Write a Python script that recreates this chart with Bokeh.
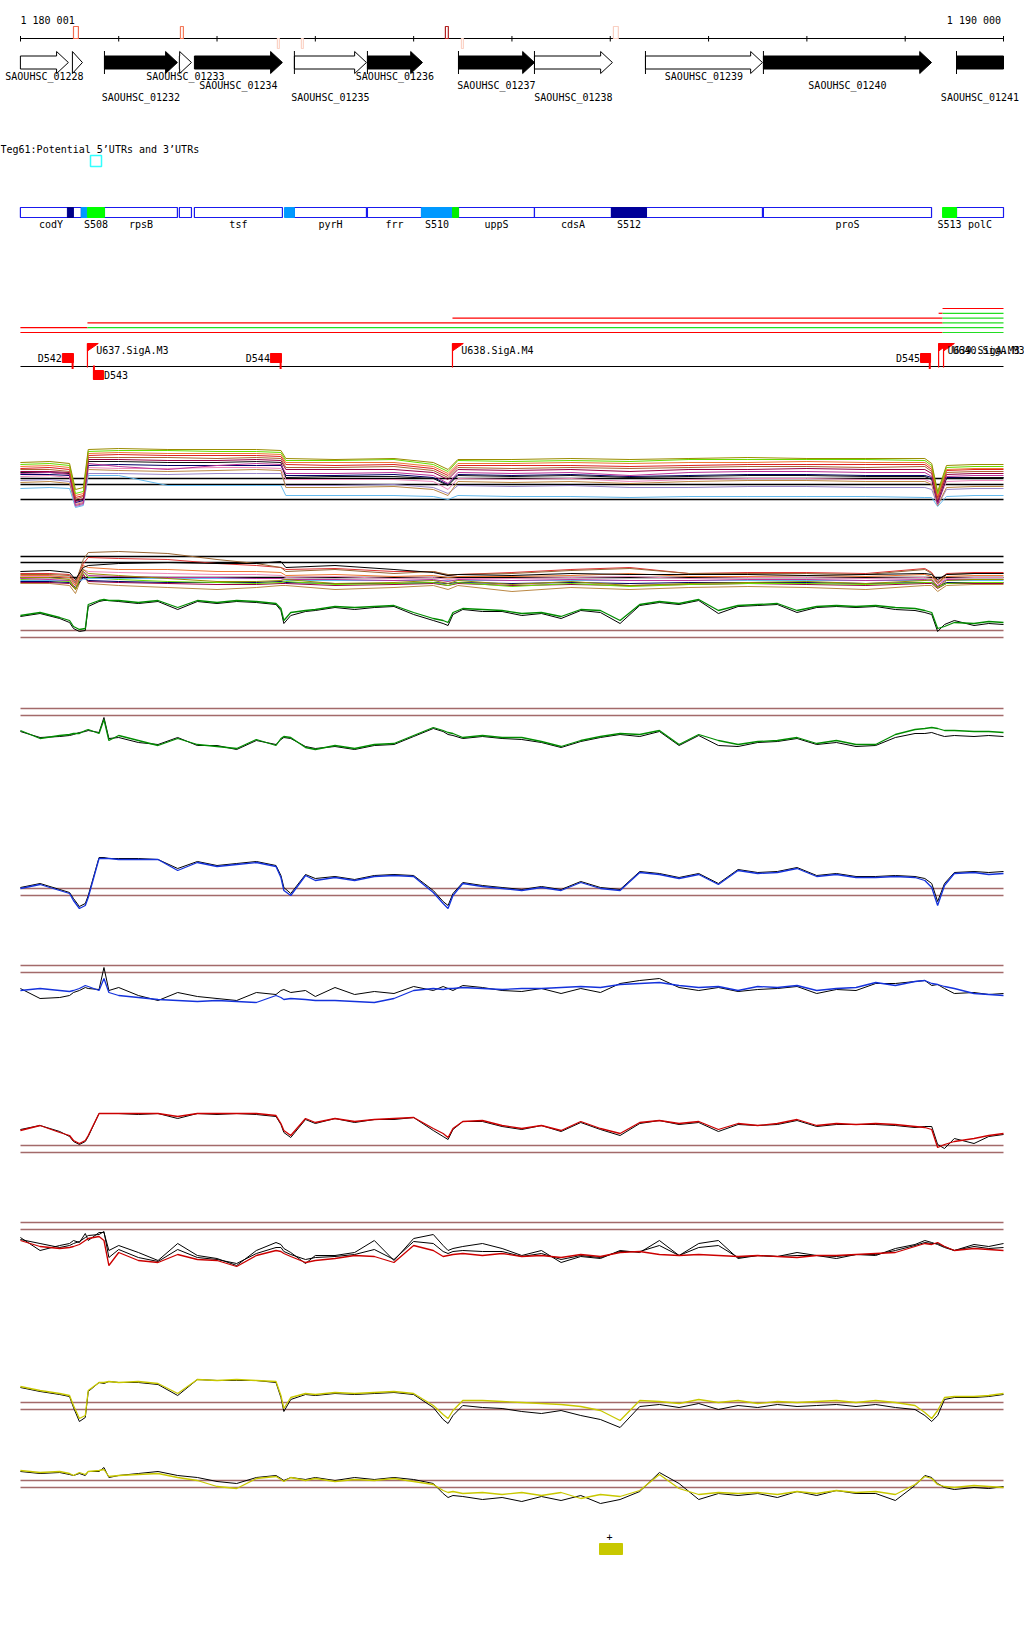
from bokeh.plotting import figure
from bokeh.models import Range1d
from bokeh.core.properties import value
from bokeh.embed import file_html
from bokeh.resources import INLINE

# ---------------- data ----------------
OFFSET = 1180000
REGION_START = 1180001
REGION_END = 1190000

ruler_ticks = [1180001, 1181000, 1182000, 1183000, 1184000, 1185000,
               1186000, 1187000, 1188000, 1189000, 1190000]
ruler_labels = ["1 180 001", "1 190 000"]

# small sites on the ruler (offsets from OFFSET)
site_pos = [540, 1628, 2614, 2858, 4323, 4486, 6032]
site_len = [50, 30, 20, 20, 30, 20, 50]
site_strand = ["+", "+", "-", "-", "+", "-", "+"]
site_color = ["#f26a4f", "#f47a5a", "#fbd3c6", "#fbd3c6", "#b22222", "#fbd3c6", "#f9cfc2"]

# genes
gene_names = ["SAOUHSC_01228", "", "SAOUHSC_01232", "SAOUHSC_01233", "SAOUHSC_01234",
              "SAOUHSC_01235", "SAOUHSC_01236", "SAOUHSC_01237", "SAOUHSC_01238",
              "SAOUHSC_01239", "SAOUHSC_01240", "SAOUHSC_01241"]
gene_start = [0, 529, 855, 1617, 1770, 2787, 3530, 4456, 5229, 6358, 7558, 9522]
gene_end = [488, 631, 1597, 1740, 2665, 3520, 4090, 5229, 6022, 7548, 9268, 10600]
gene_filled = [False, False, True, False, True, False, True, True, False, False, True, True]
gene_row = [0, 0, 2, 0, 1, 2, 0, 1, 2, 0, 1, 2]
gene_tick = [False, False, True, False, False, True, True, True, True, True, True, True]

track_title = "Teg61:Potential 5’UTRs and 3’UTRs"

# annotated CDS boxes
feat_names = ["codY", "rpsB", "", "tsf", "pyrH", "frr", "uppS", "cdsA", "", "proS", "polC"]
feat_start = [0, 855, 1617, 1770, 2787, 3530, 4456, 5229, 6368, 7558, 9522]
feat_end = [620, 1597, 1740, 2665, 3520, 4080, 5229, 6012, 7548, 9268, 10600]
# UTR / sRNA segments
seg_names = ["", "", "S508", "", "S510", "", "S512", "S513"]
seg_start = [478, 620, 682, 2686, 4080, 4395, 6012, 9380]
seg_end = [539, 682, 855, 2787, 4395, 4456, 6368, 9522]
seg_color = ["#000088", "#0099ff", "#00ff00", "#0099ff", "#0099ff", "#00ee00", "#000099", "#00ff00"]

# transcripts
tx_start = [0, 0, 682, 682, 4395, 9340, 9380, 9380, 9380, 9380, 9380]
tx_end = [682, 9380, 9380, 10000, 9380, 9380, 10000, 10000, 10000, 10000, 10000]
tx_row = [1, 0, 2, 1, 3, 4, 0, 2, 3, 4, 5]
tx_color = ["#ff0000", "#ff0000", "#ff0000", "#22dd22", "#ff0000", "#ff0000",
            "#22dd22", "#22dd22", "#22dd22", "#22dd22", "#ff0000"]

# terminators and promoters
term_names = ["D542", "D543", "D544", "D545"]
term_start = [427, 743, 2543, 9156]
term_end = [539, 845, 2655, 9258]
term_strand = ["+", "-", "+", "+"]
prom_names = ["U637.SigA.M3", "U638.SigA.M4", "U639.SigA.M3", "U640.SigA.M3"]
prom_pos = [682, 4395, 9340, 9390]

# positions of signal samples (offsets)
multi_pos = [0, 300, 500, 560, 640, 690, 1000, 1500, 2000, 2400, 2650, 2700, 3200, 3800,
             4200, 4350, 4450, 5000, 5600, 6200, 6800, 7400, 8000, 8600, 9200, 9270,
             9330, 9420, 9700, 10000]
trace_pos = [0, 200, 400, 500, 540, 600, 660, 690, 800, 850, 900, 1000, 1200, 1400, 1600,
             1800, 2000, 2200, 2400, 2600, 2650, 2680, 2750, 2900, 3000, 3200, 3400, 3600,
             3800, 4000, 4200, 4300, 4350, 4400, 4500, 4700, 4900, 5100, 5300, 5500, 5700,
             5900, 6100, 6300, 6500, 6700, 6900, 7100, 7300, 7500, 7700, 7900, 8100, 8300,
             8500, 8700, 8900, 9100, 9200, 9270, 9330, 9400, 9500, 9700, 9850, 10000]

# panel 1: many conditions
a_olive = [37,38,36,10,12,50,51,50,50,50,49,41,40,41,37,30,40,40,41,40,41,42,41,41,41,36,8,34,35,35]
a_lime = [35,36,34,6,8,48,49,49,48,48,47,39,39,40,35,28,39,38,39,38,40,40,40,40,39,34,6,32,33,33]
a_orange = [33,34,32,4,6,46,47,46,46,46,45,37,37,37,33,26,36,36,37,36,37,37,38,37,37,32,4,30,31,31]
a_red = [31,32,30,2,4,44,45,44,44,44,43,35,34,35,31,24,34,34,34,33,34,35,35,35,35,30,2,29,30,30]
a_brown = [30,30,28,0,3,42,42,42,41,42,41,32,32,33,29,22,32,31,32,31,32,33,33,32,33,28,0,27,28,28]
a_maroon = [28,28,27,-2,1,40,40,39,39,40,39,30,30,30,27,20,30,29,30,28,30,30,31,30,30,26,-2,25,26,26]
a_magenta = [26,27,25,-6,-4,36,33,30,34,36,35,26,26,27,24,16,27,26,27,24,27,28,28,27,27,23,-4,23,24,24]
a_black = [27,27,26,-1,0,38,38,37,37,38,37,22,23,23,21,14,24,23,24,22,23,24,24,23,23,20,-3,21,22,22]
a_pink = [23,24,22,-4,-2,32,31,31,32,32,31,20,20,20,18,10,21,20,21,18,20,21,21,20,20,17,-5,18,19,19]
a_navy = [25,25,24,-3,-1,34,35,34,34,34,34,24,24,25,22,15,25,24,25,23,24,25,25,24,24,22,-4,22,22,22]
a_lavender = [19,20,18,-7,-5,26,26,25,26,26,26,14,14,15,12,6,14,13,14,12,12,13,13,12,12,10,-6,10,11,11]
a_skyblue = [11,12,11,-8,-6,24,24,14,14,14,14,4,4,4,3,0,4,3,3,2,3,3,3,3,2,2,-7,3,4,4]
a_tan = [17,18,16,-5,-3,30,29,28,29,30,29,12,12,13,10,4,18,17,18,16,18,19,19,18,18,15,-6,12,13,13]
panel1_refs = [21, 15, 0]

# panel 2: many conditions
b_brown = [3,3,2,-6,18,25,26,24,18,14,10,6,8,4,6,3,3,4,7,9,4,4,4,3,8,4,-6,3,4,4]
b_red = [4,4,3,-4,14,20,19,18,14,12,10,8,9,6,6,2,3,5,8,10,4,5,5,4,9,5,-4,4,5,5]
b_black = [6,7,5,-2,10,12,14,15,14,14,16,10,12,8,5,2,3,2,4,3,3,3,2,3,4,3,-2,3,4,4]
b_orange = [2,2,0,-8,12,10,8,8,6,6,5,2,3,1,2,0,1,1,2,4,1,1,2,1,3,1,-6,1,2,2]
b_olive = [0,0,-2,-12,8,4,2,-1,-4,-4,-3,-2,-6,-5,-3,-6,-3,-7,-4,-8,-6,-5,-4,-6,-3,-2,-10,-3,-2,-2]
b_pink = [1,1,0,-6,8,6,5,4,3,3,2,0,1,-1,0,-2,-1,-1,0,1,-1,0,0,-1,0,-1,-6,-1,0,0]
b_magenta = [-1,-2,-3,-8,6,2,1,0,0,-1,-1,-2,-2,-3,-2,-4,-2,-3,-2,-3,-3,-2,-2,-3,-2,-3,-8,-2,-2,-2]
b_skyblue = [-3,-3,-3,-4,-2,-1,-1,-1,-1,-1,-1,-3,-3,-3,-3,-3,-3,-3,-3,-3,-3,-3,-3,-3,-3,-3,-4,-3,-3,-3]
b_lime = [-2,-3,-4,-12,6,0,-2,-4,-5,-6,-5,-4,-7,-6,-5,-8,-5,-9,-6,-9,-7,-6,-6,-7,-5,-5,-10,-6,-5,-5]
b_navy = [-4,-4,-5,-10,0,-3,-4,-5,-5,-5,-4,-5,-6,-6,-5,-6,-5,-6,-5,-6,-5,-5,-5,-6,-5,-5,-9,-5,-5,-5]
b_tan = [-6,-6,-8,-16,4,-6,-8,-10,-12,-10,-8,-8,-12,-10,-8,-12,-8,-14,-10,-12,-10,-9,-10,-12,-8,-8,-14,-8,-7,-7]
b_maroon = [-5,-5,-6,-12,3,-4,-5,-6,-7,-7,-6,-6,-8,-7,-6,-8,-6,-8,-7,-8,-7,-6,-7,-8,-6,-6,-11,-6,-6,-6]
panel2_refs = [21, 15, 0]

# panels 3-10: condition vs reference (black)
g1_green = [22,25,20,17,11,8,9,33,37,38,37,37,35,37,30,37,35,37,36,34,29,17,25,27,28,31,30,31,32,25,
            19,17,15,25,29,28,27,24,25,21,28,27,17,33,36,34,38,27,32,33,34,27,31,32,31,32,30,29,27,25,
            9,11,15,14,16,15]
g1_black = [21,24,19,15,9,6,7,31,36,37,37,36,34,36,28,36,34,36,35,33,27,14,22,26,27,30,28,30,31,23,
            17,14,12,23,28,26,26,22,24,19,27,25,14,32,35,33,37,24,31,32,33,25,30,31,30,31,28,27,25,23,
            6,13,17,12,14,13]
g2_green = [-15,-23,-20,-19,-18,-18,-15,-14,-18,-4,-25,-20,-25,-30,-23,-29,-31,-33,-24,-30,
            -23,-21,-22,-32,-34,-30,-33,-29,-28,-20,-12,-15,-17,-18,-22,-20,-22,-22,-26,-31,
            -25,-21,-18,-19,-15,-29,-19,-25,-29,-26,-25,-22,-28,-25,-29,-29,-19,-14,-13,-12,
            -13,-15,-15,-16,-16,-17]
g2_black = [-16,-22,-21,-20,-19,-17,-16,-15,-17,-2,-23,-22,-27,-29,-22,-30,-30,-34,-25,-29,
            -24,-22,-23,-31,-33,-31,-34,-30,-29,-21,-13,-16,-19,-20,-23,-21,-23,-24,-27,-32,
            -26,-22,-19,-21,-16,-30,-20,-30,-31,-27,-26,-23,-29,-27,-31,-30,-22,-18,-18,-17,
            -19,-21,-20,-21,-20,-21]
u1_blue = [7,11,5,2,-5,-13,-10,-2,37,37,37,36,36,36,25,33,29,31,33,29,18,5,0,20,15,18,15,19,20,19,
           3,-8,-13,0,12,9,7,5,8,5,13,7,5,23,21,17,21,11,25,22,23,27,19,21,18,18,19,18,15,8,
           -10,10,22,23,21,22]
u1_black = [8,12,6,3,-3,-11,-8,0,38,38,37,37,37,36,27,34,30,32,34,30,20,8,2,21,17,19,16,20,21,20,
            5,-6,-10,2,13,10,8,6,9,6,14,8,6,24,22,18,22,12,26,23,24,28,20,22,19,19,20,19,17,12,
            -6,12,23,24,23,24]
u2_blue = [-18,-16,-18,-19,-18,-16,-13,-14,-18,-6,-20,-23,-25,-27,-28,-29,-28,-29,-30,-23,
           -25,-27,-26,-27,-28,-28,-29,-30,-26,-18,-16,-17,-16,-16,-15,-16,-17,-16,-16,-15,
           -14,-15,-12,-11,-10,-13,-15,-14,-18,-14,-15,-13,-18,-16,-15,-10,-13,-9,-8,-11,
           -12,-14,-16,-21,-22,-23]
u2_black = [-16,-26,-25,-23,-20,-18,-15,-16,-17,5,-18,-15,-23,-28,-20,-24,-26,-28,-20,-22,
            -18,-17,-20,-18,-24,-15,-22,-19,-21,-14,-18,-14,-16,-18,-13,-15,-18,-19,-16,-21,
            -16,-20,-11,-8,-6,-15,-18,-15,-19,-17,-16,-14,-21,-17,-18,-11,-11,-9,-8,-13,
            -12,-16,-21,-20,-22,-21]
r1_red = [22,27,20,17,12,9,12,17,39,39,39,39,39,39,36,39,39,39,39,37,29,22,17,34,30,34,31,33,34,35,
          24,19,15,24,31,32,27,24,27,22,31,24,19,30,32,29,31,23,29,27,29,33,27,29,28,29,28,26,25,23,
          5,8,11,14,17,19]
r1_black = [23,27,21,16,11,8,11,16,39,39,39,39,38,39,34,39,38,39,38,36,28,20,15,33,29,34,30,33,33,35,
            22,16,13,23,31,31,26,23,27,21,30,23,17,29,32,28,30,21,28,27,28,32,26,28,28,28,27,25,26,26,
            8,4,14,9,16,18]
r2_red = [-11,-17,-19,-18,-17,-15,-11,-9,-7,-11,-36,-23,-31,-33,-25,-30,-31,-37,-26,-21,
          -22,-24,-27,-33,-31,-29,-26,-27,-33,-16,-21,-27,-26,-25,-24,-26,-24,-27,-26,-28,
          -25,-27,-23,-22,-25,-26,-25,-26,-27,-26,-27,-28,-26,-26,-25,-24,-23,-17,-14,-15,
          -13,-17,-21,-19,-20,-21]
r2_black = [-8,-21,-16,-14,-11,-13,-4,-11,-3,-3,-21,-16,-23,-31,-14,-26,-29,-36,-21,-13,
            -15,-19,-23,-34,-26,-26,-23,-11,-31,-9,-5,-16,-21,-19,-17,-14,-19,-26,-21,-33,
            -27,-29,-21,-23,-11,-26,-14,-11,-29,-26,-27,-23,-26,-29,-25,-26,-19,-15,-11,-13,
            -15,-18,-21,-15,-17,-14]
r2_black2 = [-10,-14,-18,-16,-14,-12,-8,-6,-5,-2,-28,-20,-28,-32,-20,-28,-30,-34,-24,-18,
             -18,-22,-25,-30,-28,-27,-25,-20,-30,-12,-14,-22,-24,-22,-21,-22,-22,-27,-24,-30,
             -26,-28,-22,-22,-16,-26,-18,-16,-28,-26,-27,-26,-26,-27,-25,-25,-21,-16,-13,-14,
             -14,-17,-21,-17,-19,-18]
y1_yellow = [23,19,16,14,4,-9,-6,19,27,27,28,27,28,26,16,30,29,30,29,28,14,1,12,16,15,17,16,17,18,16,
             4,-5,-9,-1,9,9,8,7,6,5,3,-1,-11,9,8,6,10,7,9,6,8,7,8,9,7,9,7,4,-3,-9,
             -1,12,13,13,14,16]
y1_black = [22,18,15,13,2,-12,-8,18,27,26,28,27,27,25,14,30,29,29,29,27,12,-2,10,15,14,16,15,16,17,15,
            2,-10,-14,-6,4,2,1,-2,-4,-1,-6,-10,-18,3,5,2,6,0,4,2,5,3,4,5,3,5,2,0,-6,-12,
            -6,10,12,12,13,15]
y2_yellow = [17,15,16,14,12,15,13,16,17,18,11,12,13,14,10,7,1,-1,9,11,8,6,10,7,9,6,8,7,9,6,
             3,-3,-5,-4,-6,-5,-7,-5,-8,-5,-11,-7,-9,-3,13,-1,-7,-5,-6,-5,-7,-4,-6,-3,-5,-4,-7,3,11,9,
             3,1,0,2,1,0]
y2_black = [16,14,15,13,12,14,12,16,16,20,10,12,14,16,12,10,6,4,10,12,9,7,10,8,10,7,10,8,10,8,
            4,-6,-10,-8,-9,-12,-10,-14,-9,-13,-8,-16,-12,-4,15,4,-12,-6,-8,-6,-10,-4,-8,-3,-6,-6,-13,2,12,10,
            4,0,-2,0,-1,1]
threshold_refs = [7, 0]

legend_strand = "+"

# ---------------- layout / styling ----------------
PX_PER_BP = 983 / 9999
W, H = 1024, 1636
TOP, BOTTOM = 0, H
FONT = value("DejaVu Sans Mono")
FS = "10px"
REF_COLOR = "#a36a6a"


def px2g(px):
    return REGION_START + (px - 20) / PX_PER_BP


def gx(offs):
    return [OFFSET + o for o in offs]


def clipx(offs):
    return [min(OFFSET + o, REGION_END) for o in offs]


p = figure(width=W, height=H,
           x_range=Range1d(px2g(0), px2g(W)),
           y_range=Range1d(BOTTOM, TOP),
           output_backend="svg", toolbar_location=None,
           x_axis_location=None, y_axis_location=None,
           min_border=0, outline_line_color=None, background_fill_color="white")
p.grid.grid_line_color = None

# ---- ruler ----
p.segment(x0=[REGION_START], y0=[38], x1=[REGION_END], y1=[38], line_color="black", line_width=1)
p.segment(x0=ruler_ticks, y0=[35.5] * len(ruler_ticks), x1=ruler_ticks, y1=[41] * len(ruler_ticks),
          line_color="black", line_width=1)
p.text(x=[REGION_START], y=[20], text=[ruler_labels[0]], text_font=FONT, text_font_size=FS,
       text_align="left", text_baseline="middle", text_color="black")
p.text(x=[REGION_END - 25], y=[20], text=[ruler_labels[1]], text_font=FONT, text_font_size=FS,
       text_align="right", text_baseline="middle", text_color="black")
s_left = gx(site_pos)
s_right = [OFFSET + s + l for s, l in zip(site_pos, site_len)]
s_top = [26 if st == "+" else 38 for st in site_strand]
s_bot = [38 if st == "+" else 48 for st in site_strand]
p.quad(left=s_left, right=s_right, top=s_top, bottom=s_bot, fill_color="white",
       line_color=site_color, line_width=1.2)

# ---- genes ----
HEAD = 120
xs, ys = [], []
for s, e in zip(gene_start, gene_end):
    a, b = OFFSET + s, OFFSET + e
    if b > REGION_END:
        # gene runs past the window: clipped, no arrow head
        xs.append([a, REGION_END, REGION_END, a])
        ys.append([55.5, 55.5, 68.5, 68.5])
        continue
    h = min(HEAD, b - a)
    xs.append([a, b - h, b - h, b, b - h, b - h, a])
    ys.append([55.5, 55.5, 51, 62, 73, 68.5, 68.5])
p.patches(xs=xs, ys=ys, fill_color=["black" if f else "white" for f in gene_filled],
          line_color="black", line_width=1)
tick_x = [OFFSET + s for s, t in zip(gene_start, gene_tick) if t]
p.segment(x0=tick_x, y0=[50.5] * len(tick_x), x1=tick_x, y1=[73.5] * len(tick_x),
          line_color="black", line_width=1)
row_y = [76, 85, 97]
lx, ly, lt = [], [], []
for n, s, e, r in zip(gene_names, gene_start, gene_end, gene_row):
    if not n:
        continue
    a = max(OFFSET + s, REGION_START)
    b = min(OFFSET + e, REGION_END)
    lx.append((a + b) / 2)
    ly.append(row_y[r])
    lt.append(n)
p.text(x=lx, y=ly, text=lt, text_font=FONT, text_font_size=FS, text_align="center",
       text_baseline="middle", text_color="black")

# ---- track title ----
p.text(x=[px2g(0)], y=[149], text=[track_title], text_font=FONT, text_font_size=FS,
       text_align="left", text_baseline="middle", text_color="black")
p.quad(left=[px2g(90)], right=[px2g(101)], top=[155], bottom=[166], fill_color=None,
       line_color="#33ffff", line_width=1.5)

# ---- features ----
p.quad(left=gx(feat_start), right=clipx(feat_end), top=[207] * len(feat_start),
       bottom=[217] * len(feat_start), fill_color="white", line_color="#1a1aee", line_width=1.2)
p.quad(left=gx(seg_start), right=clipx(seg_end), top=[207] * len(seg_start),
       bottom=[217] * len(seg_start), fill_color=seg_color, line_color=seg_color, line_width=1)
fx, ft = [], []
for n, s, e in list(zip(feat_names, feat_start, feat_end)) + list(zip(seg_names, seg_start, seg_end)):
    if not n:
        continue
    a = max(OFFSET + s, REGION_START)
    b = min(OFFSET + e, REGION_END)
    fx.append((a + b) / 2)
    ft.append(n)
p.text(x=fx, y=[224] * len(fx), text=ft, text_font=FONT, text_font_size=FS, text_align="center",
       text_baseline="middle", text_color="black")

# ---- transcripts ----
tx_y = [332 - 4.8 * r for r in tx_row]
p.segment(x0=gx(tx_start), y0=tx_y, x1=clipx(tx_end), y1=tx_y, line_color=tx_color, line_width=1.2)

# ---- promoters / terminators ----
p.segment(x0=[REGION_START], y0=[366], x1=[REGION_END], y1=[366], line_color="black", line_width=1.2)
tl, tr, tt, tb, stx, sty0, sty1 = [], [], [], [], [], [], []
lab_l_x, lab_l_t, lab_r_x, lab_r_t = [], [], [], []
for n, s, e, st in zip(term_names, term_start, term_end, term_strand):
    tl.append(OFFSET + s)
    tr.append(OFFSET + e)
    if st == "+":
        tt.append(353); tb.append(362)
        stx.append(OFFSET + e - 8); sty0.append(353); sty1.append(368.5)
        lab_r_x.append(OFFSET + s - 5); lab_r_t.append(n)
    else:
        tt.append(370); tb.append(379)
        stx.append(OFFSET + s + 5); sty0.append(365); sty1.append(379)
        lab_l_x.append(OFFSET + e + 5); lab_l_t.append(n)
p.quad(left=tl, right=tr, top=tt, bottom=tb, fill_color="#ff0000", line_color="#ff0000")
p.segment(x0=stx, y0=sty0, x1=stx, y1=sty1, line_color="#ff0000", line_width=2)
p.text(x=lab_r_x, y=[358] * len(lab_r_x), text=lab_r_t, text_font=FONT, text_font_size=FS,
       text_align="right", text_baseline="middle", text_color="black")
p.text(x=lab_l_x, y=[375] * len(lab_l_x), text=lab_l_t, text_font=FONT, text_font_size=FS,
       text_align="left", text_baseline="middle", text_color="black")
px_ = gx(prom_pos)
p.segment(x0=px_, y0=[343] * len(px_), x1=px_, y1=[367] * len(px_), line_color="#ff0000", line_width=1.2)
p.patches(xs=[[x, x + 110, x] for x in px_], ys=[[343, 343, 350.5]] * len(px_),
          fill_color="#ff0000", line_color="#ff0000")
p.text(x=[x + 90 for x in px_], y=[350] * len(px_), text=prom_names, text_font=FONT,
       text_font_size=FS, text_align="left", text_baseline="middle", text_color="black")

# ---- signal panels ----
multi1 = [(a_skyblue, "#66bbee"), (a_lavender, "#9988cc"), (a_tan, "#bb8844"), (a_pink, "#ee88bb"),
          (a_navy, "#000066"), (a_black, "#111111"), (a_magenta, "#bb3399"), (a_maroon, "#990044"),
          (a_brown, "#aa6633"), (a_red, "#dd2222"), (a_orange, "#ee7733"), (a_lime, "#66dd00"),
          (a_olive, "#9a8c00")]
multi2 = [(b_tan, "#bb8844"), (b_maroon, "#990044"), (b_navy, "#000066"), (b_lime, "#66dd00"),
          (b_skyblue, "#66bbee"), (b_magenta, "#bb3399"), (b_pink, "#ee88bb"), (b_olive, "#9a8c00"),
          (b_orange, "#ee7733"), (b_red, "#dd3333"), (b_brown, "#996633"), (b_black, "#000000")]

panels = [
    ("p1", 499, panel1_refs, "black", multi_pos, [(v, c, 1) for v, c in multi1]),
    ("p2", 577, panel2_refs, "black", multi_pos, [(v, c, 1) for v, c in multi2]),
    ("p3", 637, threshold_refs, REF_COLOR, trace_pos, [(g1_black, "black", 1), (g1_green, "#008c00", 1.3)]),
    ("p4", 715, threshold_refs, REF_COLOR, trace_pos, [(g2_black, "black", 1), (g2_green, "#008c00", 1.3)]),
    ("p5", 895, threshold_refs, REF_COLOR, trace_pos, [(u1_black, "black", 1), (u1_blue, "#1432dc", 1.3)]),
    ("p6", 972, threshold_refs, REF_COLOR, trace_pos, [(u2_black, "black", 1), (u2_blue, "#1432dc", 1.3)]),
    ("p7", 1152, threshold_refs, REF_COLOR, trace_pos, [(r1_black, "black", 1), (r1_red, "#cc0000", 1.3)]),
    ("p8", 1229, threshold_refs, REF_COLOR, trace_pos,
     [(r2_black, "black", 1), (r2_black2, "black", 1), (r2_red, "#cc0000", 1.3)]),
    ("p9", 1409, threshold_refs, REF_COLOR, trace_pos, [(y1_black, "black", 1), (y1_yellow, "#c8c800", 1.3)]),
    ("p10", 1487, threshold_refs, REF_COLOR, trace_pos, [(y2_black, "black", 1), (y2_yellow, "#c8c800", 1.3)]),
]

p.extra_y_ranges = {name: Range1d(start=base - BOTTOM, end=base - TOP)
                    for name, base, _, _, _, _ in panels}

for name, base, refs, rcol, pos, traces in panels:
    p.segment(x0=[REGION_START] * len(refs), y0=refs, x1=[REGION_END] * len(refs), y1=refs,
              line_color=rcol, line_width=1.5, y_range_name=name)
    xpos = gx(pos)
    for vals, col, lw in traces:
        p.line(x=xpos, y=vals, line_color=col, line_width=lw, y_range_name=name)

# ---- strand legend ----
p.text(x=[px2g(609)], y=[1536], text=[legend_strand], text_font=FONT, text_font_size=FS,
       text_align="center", text_baseline="middle", text_color="black")
p.quad(left=[px2g(599)], right=[px2g(622)], top=[1543], bottom=[1554],
       fill_color="#c8c800", line_color="#c8c800")

open("out.html", "w").write(file_html(p, INLINE))
